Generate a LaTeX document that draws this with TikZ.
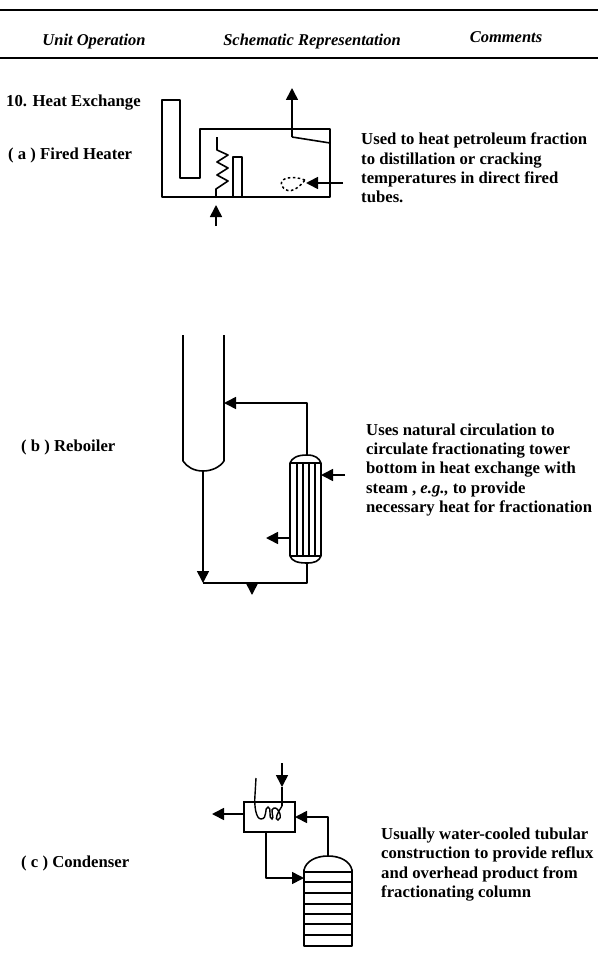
\documentclass[tikz,border=0pt]{standalone}
\usepackage{fontspec}
\setmainfont{Liberation Serif}
\usepackage{xcolor}
\usetikzlibrary{arrows.meta,positioning,calc,decorations.pathmorphing}
\tikzset{
  pipe/.style={line width=1.6pt,line join=round},
  flow/.style={pipe,-{Triangle[length=12pt,width=12pt]}},
  txt/.style={anchor=west,align=left,inner sep=0pt,font=\fontsize{16.7}{19.2}\selectfont\bfseries},
  head/.style={anchor=base,inner sep=0pt,font=\fontsize{16.5}{18}\selectfont\bfseries\itshape}
}
\begin{document}
\begin{tikzpicture}[x=1pt,y=-1pt,line cap=butt]
\useasboundingbox (0,0) rectangle (598,955);
% header
\draw[line width=1.6pt] (0,10) -- (598,10);
\draw[line width=1.6pt] (0,58) -- (598,58);
\node[head] (hunit) at (94,46) {Unit Operation};
\node[head] (hschem) at (312,46) {Schematic Representation};
\node[head] (hcomm) at (506,43) {Comments};
% (a) fired heater
\node[txt] (tsec) at (6,102.5) {10. Heat Exchange};
\node[txt] (ta) at (8,155) {( a ) Fired Heater};
\node[txt] (ca) at (361,168) {Used to heat petroleum fraction\\to distillation or cracking\\temperatures in direct fired\\tubes.};
\draw[pipe] (162,100) -- (180,100) -- (180,178) -- (200,178) -- (200,129)
   -- (330,129) -- (330,197) -- (162,197) -- cycle;       % stack and box
\draw[pipe] (233,197) -- (233,157) -- (242,157) -- (242,197);
\coordinate (coiltop) at (217,137);
\coordinate (coilbot) at (216,197);
\coordinate (coilin) at (216,226);
\draw[pipe] (coiltop) -- (217,150) -- (228,155) -- (217,162) -- (228,168) -- (217,175)
   -- (228,181) -- (216,189) -- (coilbot);                % tube coil
\draw[flow,shorten >=8pt] (coilin) -- (coilbot);
\coordinate (stackout) at (292,137);
\coordinate (stacktop) at (292,88);
\draw[flow] (stackout) -- (stacktop);
\draw[pipe] (stackout) -- (330,143);                      % damper
\draw[line width=1.5pt,dash pattern=on 2.5pt off 2.5pt] (305,180) .. controls (292,175) and (278,178) .. (282,186)
   .. controls (286,193) and (295,193) .. (305,180);      % flame
\coordinate (fuelin) at (343,183);
\coordinate (burner) at (306,183);
\draw[flow] (fuelin) -- (burner);
% (b) reboiler
\node[txt] (tb) at (21,447) {( b ) Reboiler};
\node[txt] (cb) at (366,470) {Uses natural circulation to\\circulate fractionating tower\\bottom in heat exchange with\\steam , \textit{e.g.,} to provide\\necessary heat for fractionation};
\draw[pipe] (183,335) -- (183,461) .. controls (187,467) and (194,471) .. (203,471)
   .. controls (212,471) and (220,467) .. (224,461) -- (224,335);   % tower
\coordinate (towbot) at (203,471);
\coordinate (towin) at (224,403);
\coordinate (corner) at (203,583);
\coordinate (exbot) at (307,563);
\coordinate (extop) at (307,455);
\draw[pipe] (290,463) .. controls (292,458) and (297,455) .. (extop)
   .. controls (315,455) and (319,458) .. (321,463) -- (321,556)
   .. controls (319,561) and (315,563) .. (exbot)
   .. controls (297,563) and (292,561) .. (290,556) -- cycle;       % shell
\draw[pipe] (290,463) -- (321,463);
\draw[pipe] (290,556) -- (321,556);
\foreach \x in {297,303,309,315}
  \draw[line width=1.2pt] (\x,463) -- (\x,556);                     % tubes
\draw[flow] (extop) |- (towin);
\draw[flow] (towbot) -- (corner);
\draw[pipe] (corner) -| (exbot);
\coordinate (prodtop) at (252,583);
\coordinate (prodout) at (252,595);
\draw[flow] (prodtop) -- (prodout);
\coordinate (steamin) at (345,475);
\coordinate (steamend) at (321,475);
\draw[flow] (steamin) -- (steamend);
\coordinate (condst) at (290,538);
\coordinate (condout) at (266,538);
\draw[flow] (condst) -- (condout);
% (c) condenser
\node[txt] (tc) at (21,863) {( c ) Condenser};
\node[txt] (cc) at (381,864.5) {Usually water-cooled tubular\\construction to provide reflux\\and overhead product from\\fractionating column};
\node[draw,line width=1.6pt,minimum width=51pt,minimum height=30pt,inner sep=0pt] (cond) at (269.5,817) {};
\draw[pipe] (304,946) -- (304,870) .. controls (306,861) and (316,856) .. (328,856)
   .. controls (340,856) and (350,861) .. (352,870) -- (352,946) -- cycle;   % column
\foreach \y/\w in {872/1.7,882/1.2,893/1.2,904/1.7,914/1.2,924/1.7,935/1.2}
  \draw[line width=\w pt] (304,\y) -- (352,\y);                     % trays
\coordinate (coltop) at (328,856);
\coordinate (colin) at (304,878);
\coordinate (reflux) at (295,817);
\draw[flow] (coltop) |- (reflux);
\draw[flow] (266,832) |- (colin);
\coordinate (ovhd) at (244,814);
\coordinate (ovhdout) at (212,814);
\draw[flow] (ovhd) -- (ovhdout);
\coordinate (cwin) at (282,763);
\coordinate (cwtip) at (282,787);
\draw[flow] (cwin) -- (cwtip);
\draw[line width=1.4pt] (256,778) -- (255,795) .. controls (254,806) and (256,819) .. (261,819)
   .. controls (268,819) and (264,807) .. (268,807)
   .. controls (272,807) and (268,819) .. (272,819)
   .. controls (275,819) and (269,808) .. (274,808)
   .. controls (279,807) and (283,819) .. (278,820)
   .. controls (274,820) and (278,812) .. (282,806);      % cooling coil
\draw[pipe] (cwtip) -- (282,806);
\end{tikzpicture}
\end{document}
